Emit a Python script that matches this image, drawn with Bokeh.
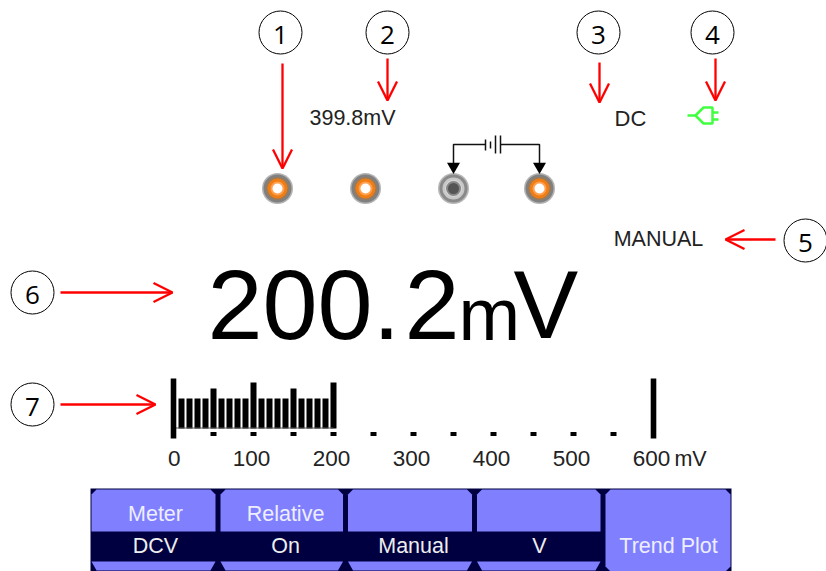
from bokeh.plotting import figure
from bokeh.embed import file_html
from bokeh.resources import INLINE
from bokeh.models import Range1d, Arrow, OpenHead
from bokeh.core.properties import value

FONT = "Liberation Sans"

# Bargraph data (mV)
bar_mv = [10,20,30,40,50,60,70,80,90,100,110,120,130,140,150,160,170,180,190,200]
bar_top = [398,398,398,398,388,398,398,398,398,382,398,398,398,398,388,398,398,398,398,382]
dot_mv = [50,100,150,200,250,300,350,400,450,500,550]
end_mv = [0,600]
tick_mv = [0,100,200,300,400,500,600]
tick_pos = [1,97.5,197.5,297.5,397.5,497.5,597.5]
tick_labels = ["0","100","200","300","400","500","600"]

# Reading
reading_parts = ["200.","2","m","V"]
reading_x = [207,404,458,513]
reading_y = [304,304,314,304]
reading_size = ["99px","99px","74px","97px"]

# Menu
menu_edges = [91,217.5,345,474,602.5,730]
menu_centers = [155,285,413,539]
menu_top = ["Meter","Relative","",""]
menu_bottom = ["DCV","On","Manual","V"]

# Callouts
call_x = [280,387,598,712,805,32,32]
call_y = [32,32,32,32,240,292,404]
call_t = ["1","2","3","4","5","6","7"]
arrows = [(282,63,282,168),(387,58,387,100),(599,62,599,102),(715,58,715,100),
          (775,239,725,239),(60,292,172,292),(60,404,155,404)]

# Terminals
term_x = [277,365,453,539]
orange_rings = [(31,"#b4b4b4"),(28,"#808080"),(23,"#9a7a5a"),(20,"#f07c14"),(14,"#ffa050"),(10,"#ffffff")]
gray_rings = [(31,"#b8b8b8"),(28,"#8a8a8a"),(22,"#c8c8c8"),(17,"#d8d8d8"),(15,"#888888"),(11,"#555555")]

p = figure(width=826, height=571, output_backend="svg", toolbar_location=None,
           x_range=Range1d(0,826), y_range=Range1d(571,0), min_border=0,
           x_axis_location=None, y_axis_location=None, outline_line_color=None,
           background_fill_color="white", border_fill_color="white")
p.grid.visible = False
p.extra_x_ranges["mV"] = Range1d((0-173)/0.8, (826-173)/0.8)

def txt(x,y,t,size,color="#222222",align="center",**k):
    p.text([x],[y],text=[t],text_font=value(FONT),text_font_size=f"{size}px",
           text_color=color,text_align=align,text_baseline="middle",**k)

# callouts
p.circle(call_x,call_y,radius=21.5,fill_color="white",line_color="black",line_width=1)
p.text(call_x,[y+2 for y in call_y],text=call_t,text_font=value("Open Sans"),text_font_size="26px",
       text_color="black",text_align="center",text_baseline="middle")
for a in arrows:
    p.add_layout(Arrow(end=OpenHead(line_color="#ff0000",line_width=2.3,size=19),
                       x_start=a[0],y_start=a[1],x_end=a[2],y_end=a[3],
                       line_color="#ff0000",line_width=2.3))

# top texts
txt(352,117,"399.8mV",21.5)
txt(630,118,"DC",22)
txt(658,238,"MANUAL",21.5)

# plug
p.line([687,695],[115,115],line_color="#40ff40",line_width=2.5)
p.patch([695,703,712,712,703],[115,107,107,123,123],fill_color="white",line_color="#40ff40",line_width=2.5)
p.multi_line([[712,718],[712,718]],[[112,112],[119,119]],line_color="#40ff40",line_width=2.5)

# terminals
for tx,rings in zip(term_x,[orange_rings,orange_rings,gray_rings,orange_rings]):
    for size,col in rings:
        p.scatter([tx],[188],size=size,fill_color=col,line_color=None)

# wiring
p.line([453,453,485],[165,144,144],line_color="#111111",line_width=1.5)
p.line([500,539,539],[144,144,165],line_color="#111111",line_width=1.5)
p.segment([485,490,495,500],[139,141,135,135],[485,490,495,500],[150,148,153,153],line_color="#111111",line_width=1.5)
p.scatter([453,539],[166,166],marker="inverted_triangle",size=13,fill_color="black",line_color=None)

# reading
p.text(reading_x,reading_y,text=reading_parts,text_font=value(FONT),text_font_size=reading_size,
       text_color="black",text_align="left",text_baseline="middle")

# bargraph
p.vbar(x=bar_mv,width=7.5,top=bar_top,bottom=428,fill_color="black",line_color=None,x_range_name="mV")
p.segment(x0=[0],y0=[427.5],x1=[200],y1=[427.5],line_color="#555555",line_width=1,x_range_name="mV")
p.vbar(x=end_mv,width=7,top=378,bottom=438,fill_color="black",line_color=None,x_range_name="mV")
p.vbar(x=dot_mv,width=7.5,top=431.5,bottom=435.5,fill_color="black",line_color=None,x_range_name="mV")
p.text(x=tick_pos,y=[458]*7,text=tick_labels,text_font=value(FONT),text_font_size="22.5px",text_color="#222222",
       text_align="center",text_baseline="middle",x_range_name="mV")
txt(690,458,"mV",21.5)

# menu
BG="#000040"; FILL="#8080ff"
p.quad(left=[90],right=[731],top=[488],bottom=[572],fill_color=BG,line_color=None)
for i in range(5):
    l,r=menu_edges[i]+2.5,menu_edges[i+1]-2.5
    if i==0: l=menu_edges[0]
    if i==4: r=menu_edges[5]
    if i<4:
        p.patch([l+5,r-5,r,r,l,l],[489,489,494,531,531,494],fill_color=FILL,line_color=None)
        p.patch([l,r,r-5,l+5],[561,561,570,570],fill_color=FILL,line_color=None)
        if menu_top[i]: txt(menu_centers[i],513,menu_top[i],21.5,color="#eeeeff")
        txt(menu_centers[i],545,menu_bottom[i],21.5,color="#eeeeee")
    else:
        p.patch([l+5,r-5,r,r,r-5,l+5,l,l],[489,489,494,566,571,571,566,494],fill_color=FILL,line_color=None)
txt(668,545,"Trend Plot",21.5,color="#eeeeff")

open("out.html","w").write(file_html(p,INLINE))
